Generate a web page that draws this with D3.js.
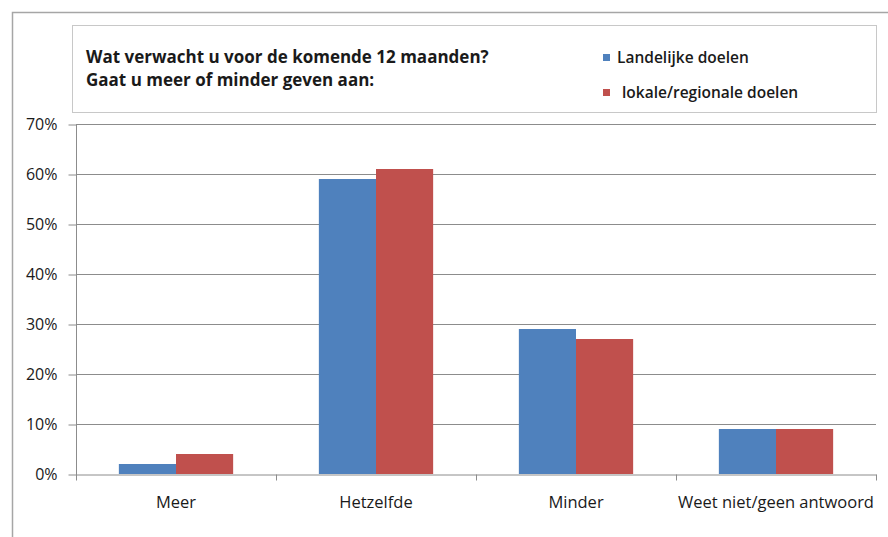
<!DOCTYPE html>
<html>
<head>
<meta charset="utf-8">
<script src="https://cdn.jsdelivr.net/npm/d3@7"></script>
<style>
  body { margin: 0; background: #fff; }
  svg text { font-family: "Open Sans", sans-serif; fill: #1a1a1a; }
</style>
</head>
<body>
<script>
let W = 888, H = 537;

// data
let categories = ["Meer", "Hetzelfde", "Minder", "Weet niet/geen antwoord"];
let seriesNames = ["Landelijke doelen", "lokale/regionale doelen"];
let landelijk = [0.02, 0.59, 0.29, 0.09];
let lokaal = [0.04, 0.61, 0.27, 0.09];
let yTicks = [0, 0.1, 0.2, 0.3, 0.4, 0.5, 0.6, 0.7];
let titleLines = ["Wat verwacht u voor de komende 12 maanden?", "Gaat u meer of minder geven aan:"];
let colors = ["#4f81bd", "#c0504d"];

let pad = { top: 124, rig: 12, bot: 63, lef: 76 };

let svg = d3.select("body").append("svg")
  .attr("width", W).attr("height", H);

// outer frame
svg.append("path")
  .attr("d", "M12.5," + H + " V12.5 H" + W)
  .attr("fill", "none").attr("stroke", "#a6a6a6").attr("stroke-width", 1.5);

// box with title + legend
svg.append("rect")
  .attr("x", 72.5).attr("y", 25.5).attr("width", 804).attr("height", 87)
  .attr("fill", "#fff").attr("stroke", "#c8c8c8");

svg.selectAll(".title").data(titleLines).enter().append("text")
  .attr("class", "title")
  .attr("x", 86).attr("y", (d, i) => 63 + i * 23)
  .attr("font-size", 17).attr("font-weight", "bold")
  .text(d => d);

let legend = svg.selectAll(".leg").data(seriesNames).enter().append("g")
  .attr("class", "leg")
  .attr("transform", (d, i) => "translate(603," + (54 + i * 35) + ")");
legend.append("rect").attr("width", 7).attr("height", 7).attr("fill", (d, i) => colors[i]);
legend.append("text")
  .attr("x", (d, i) => i == 0 ? 14 : 19).attr("y", 9)
  .attr("font-size", 15.5).attr("font-weight", 600)
  .text(d => d);

// scales
let xScale = d3.scaleBand().domain(categories).range([pad.lef, W - pad.rig]);
let bw = xScale.bandwidth();
let xSub = d3.scaleBand().domain([0, 1]).range([bw * 1.5 / 7, bw * 5.5 / 7]);
let yScale = d3.scaleLinear().domain([0, 0.7]).range([H - pad.bot, pad.top]);

// gridlines
svg.append("g").selectAll("line").data(yTicks.slice(1)).enter().append("line")
  .attr("x1", pad.lef).attr("x2", W - pad.rig)
  .attr("y1", d => Math.round(yScale(d)) + 0.5).attr("y2", d => Math.round(yScale(d)) + 0.5)
  .attr("stroke", "#8c8c8c");

// bars
let rows = categories.map((c, i) => ({ cat: c, vals: [landelijk[i], lokaal[i]] }));
svg.append("g").selectAll("g").data(rows).enter().append("g")
  .attr("transform", d => "translate(" + xScale(d.cat) + ",0)")
  .selectAll("rect").data(d => d.vals).enter().append("rect")
  .attr("x", (d, i) => xSub(i))
  .attr("width", xSub.bandwidth())
  .attr("y", d => yScale(d))
  .attr("height", d => yScale(0) - yScale(d))
  .attr("fill", (d, i) => colors[i]);

// y axis
let yAxis = svg.append("g")
  .attr("transform", "translate(" + (pad.lef + 0.5) + ",0.5)")
  .call(d3.axisLeft(yScale).tickValues(yTicks).tickFormat(d3.format(".0%")).tickSize(8).tickPadding(11).tickSizeOuter(0));
yAxis.select(".domain").attr("stroke", "#8c8c8c").attr("d", "M0," + (H - pad.bot + 6) + "V" + pad.top);
yAxis.selectAll(".tick line").attr("stroke", "#8c8c8c");
yAxis.selectAll("text").attr("font-size", 16).attr("fill", "#1a1a1a").attr("font-family", null);

// x axis
let xAxis = svg.append("g")
  .attr("transform", "translate(0," + (H - pad.bot + 0.5) + ")")
  .call(d3.axisBottom(xScale).tickSize(0).tickPadding(22).tickSizeOuter(0));
xAxis.select(".domain").attr("stroke", "#8c8c8c");
xAxis.selectAll("text").attr("font-size", 16.5).attr("fill", "#1a1a1a").attr("font-family", null);
xAxis.selectAll(".sep").data(categories).enter().append("line")
  .attr("class", "sep")
  .attr("x1", d => Math.round(xScale(d) + bw) + 0.5).attr("x2", d => Math.round(xScale(d) + bw) + 0.5)
  .attr("y1", 0).attr("y2", 6)
  .attr("stroke", "#8c8c8c");
</script>
</body>
</html>
